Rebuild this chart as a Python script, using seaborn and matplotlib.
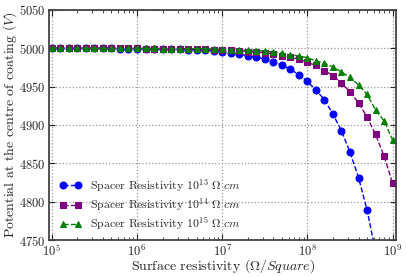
import numpy as np
import pandas as pd
import matplotlib
matplotlib.use("Agg")
import matplotlib.pyplot as plt
import seaborn as sns
from matplotlib.ticker import LogLocator, MultipleLocator

exponents = [5.0, 5.1, 5.2, 5.3, 5.4, 5.5, 5.6, 5.7, 5.8, 5.9,
             6.0, 6.1, 6.2, 6.3, 6.4, 6.5, 6.6, 6.7, 6.8, 6.9,
             7.0, 7.1, 7.2, 7.3, 7.4, 7.5, 7.6, 7.7, 7.8, 7.9,
             8.0, 8.1, 8.2, 8.3, 8.4, 8.5, 8.6, 8.7, 8.8, 8.9, 9.0]

v_1e13 = [5000.0, 5000.0, 4999.9, 4999.9, 4999.9, 4999.9, 4999.8, 4999.8, 4999.7, 4999.7,
          4999.6, 4999.5, 4999.3, 4999.1, 4998.9, 4998.6, 4998.3, 4997.9, 4997.4, 4996.8,
          4995.7, 4993.8, 4992.2, 4990.4, 4988.3, 4986.0, 4982.6, 4978.3, 4972.6, 4965.6,
          4956.8, 4945.7, 4933.0, 4914.1, 4892.4, 4864.6, 4831.6, 4789.5, 4735.0, 4665.0, 4575.0]

v_1e14 = [5000.0, 5000.0, 5000.0, 5000.0, 5000.0, 4999.9, 4999.9, 4999.9, 4999.9, 4999.8,
          4999.8, 4999.7, 4999.7, 4999.6, 4999.5, 4999.3, 4999.1, 4998.9, 4998.6, 4998.2,
          4997.8, 4997.2, 4996.6, 4995.8, 4995.0, 4994.3, 4992.2, 4990.0, 4988.3, 4985.7,
          4981.6, 4977.6, 4971.0, 4964.5, 4954.6, 4943.3, 4928.8, 4910.4, 4887.8, 4859.4, 4824.2]

v_1e15 = [5000.0, 5000.0, 5000.0, 5000.0, 5000.0, 5000.0, 4999.9, 4999.9, 4999.9, 4999.9,
          4999.9, 4999.8, 4999.8, 4999.7, 4999.7, 4999.6, 4999.5, 4999.4, 4999.2, 4999.0,
          4998.7, 4998.3, 4997.9, 4997.4, 4997.0, 4996.5, 4995.0, 4993.5, 4991.4, 4990.0,
          4987.8, 4983.5, 4980.5, 4975.8, 4969.1, 4962.2, 4952.2, 4940.0, 4919.7, 4905.3, 4880.6]

labels = [r"Spacer Resistivity $10^{13}$ $\Omega\ cm$",
          r"Spacer Resistivity $10^{14}$ $\Omega\ cm$",
          r"Spacer Resistivity $10^{15}$ $\Omega\ cm$"]
series = [v_1e13, v_1e14, v_1e15]
colors = ["#0000ff", "#800080", "#008000"]
markers = ["o", "s", "^"]

sns.set_style("ticks")
plt.rcParams["font.family"] = ["cmr10", "DejaVu Serif"]
plt.rcParams["mathtext.fontset"] = "cm"
plt.rcParams["axes.unicode_minus"] = False
plt.rcParams["axes.formatter.use_mathtext"] = True

fig = plt.figure(figsize=(4.07, 2.76), dpi=100)
ax = fig.add_axes([0.121, 0.130, 0.852, 0.834])

x = [10 ** e for e in exponents]
for vals, lab, c, m in zip(series, labels, colors, markers):
    df = pd.DataFrame({"R": x, "V": vals})
    sns.lineplot(data=df, x="R", y="V", ax=ax, color=c, marker=m, linestyle="--",
                 linewidth=1.0, markersize=5, markeredgecolor=c, label=lab)

ax.set_xscale("log")
ax.set_xlim(10 ** 4.97, 10 ** 9.04)
ax.set_ylim(4750, 5050)
ax.yaxis.set_major_locator(MultipleLocator(50))
ax.xaxis.set_major_locator(LogLocator(base=10, numticks=10))
ax.xaxis.set_minor_locator(LogLocator(base=10, subs=np.arange(2, 10), numticks=20))

ax.grid(True, which="major", linestyle=":", color="#999999", linewidth=0.9)
ax.tick_params(which="both", direction="in", top=True, right=True, labelsize=9)
ax.tick_params(which="major", length=4, width=0.8, pad=2.5)
ax.tick_params(which="minor", length=2, width=0.6)
for sp in ax.spines.values():
    sp.set_linewidth(1.3)
    sp.set_color("#444444")

ax.set_xlabel(r"Surface resistivity $(\Omega/Square)$", fontsize=10)
ax.set_ylabel(r"Potential at the centre of coating $(V)$", fontsize=10)
ax.xaxis.set_label_coords(0.5, -0.075)
ax.yaxis.set_label_coords(-0.088, 0.5)

ax.legend(loc="lower left", frameon=False, fontsize=8.5, numpoints=2,
          handlelength=1.8, handletextpad=0.8, borderaxespad=0.2, labelspacing=0.22,
          bbox_to_anchor=(0.01, 0.0))

fig.savefig("out.png", dpi=100)
